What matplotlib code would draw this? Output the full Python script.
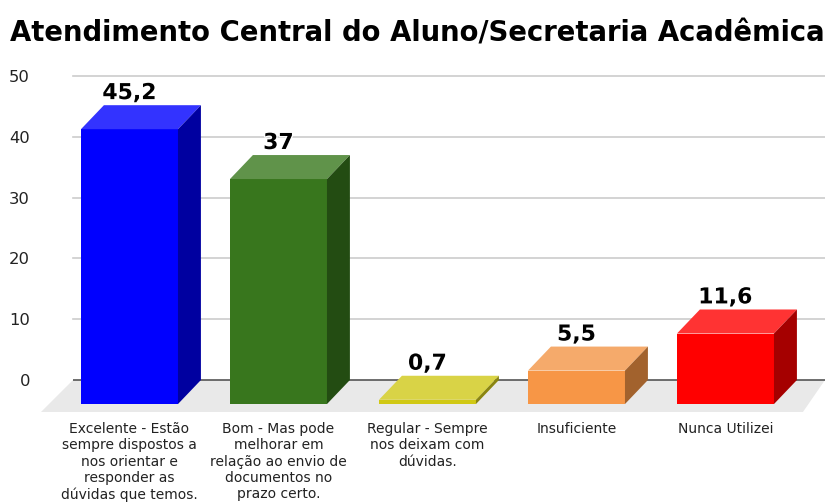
import matplotlib
matplotlib.use("Agg")
import matplotlib.pyplot as plt
import matplotlib.patheffects as pe

categories = [
    "Excelente - Estão\nsempre dispostos a\nnos orientar e\nresponder as\ndúvidas que temos.",
    "Bom - Mas pode\nmelhorar em\nrelação ao envio de\ndocumentos no\nprazo certo.",
    "Regular - Sempre\nnos deixam com\ndúvidas.",
    "Insuficiente",
    "Nunca Utilizei",
]
values = [45.2, 37, 0.7, 5.5, 11.6]
labels = ["45,2", "37", "0,7", "5,5", "11,6"]
yticks = [0, 10, 20, 30, 40, 50]

front = ["#0000ff", "#38761d", "#d0c814", "#f79646", "#ff0000"]
top = ["#3333ff", "#60934a", "#d9d346", "#f5aa6b", "#ff3333"]
side = ["#0000a0", "#234c12", "#8a8510", "#a2622d", "#a50000"]

W, H = 825, 503
fig = plt.figure(figsize=(W / 100, H / 100), dpi=100)
plt.rcParams["font.family"] = "DejaVu Sans"

# axes box in pixels: x 73-825, y 76-412
ax = fig.add_axes([73 / W, (H - 412) / H, (825 - 73) / W, (412 - 76) / H])
ax.set_xlim(-0.379, 4.668)
ax.set_ylim(-5.26, 50)
for s in ax.spines.values():
    s.set_visible(False)

width = 0.651
dx = 0.154   # depth of the fake 3d
dy = 3.95
base = -3.95

# floor
ax.fill([-0.379, -0.594, 4.52, 4.668], [0, -5.26, -5.26, 0],
        color="#e9e9e9", lw=0, clip_on=False, zorder=1)

ax.set_yticks(yticks)
ax.set_yticklabels(yticks, fontsize=11.8, color="#222222")
ax.tick_params(axis="y", length=0, pad=31)
for v in yticks[1:]:
    ax.axhline(v, color="#cccccc", lw=1.2, zorder=2, clip_on=False)
ax.axhline(0, color="#555555", lw=1.2, zorder=2)

ax.set_xticks(range(len(categories)))
ax.set_xticklabels(categories, fontsize=10, color="#222222", linespacing=1.22)
ax.tick_params(axis="x", length=0, pad=7)

for i, v in enumerate(values):
    l = i - width / 2
    r = i + width / 2
    h = base + v
    ax.fill([l, r, r, l], [base, base, h, h], color=front[i], lw=0, zorder=3)
    ax.fill([l, r, r + dx, l + dx], [h, h, h + dy, h + dy], color=top[i], lw=0, zorder=3)
    ax.fill([r, r + dx, r + dx, r], [base, base + dy, h + dy, h], color=side[i], lw=0, zorder=3)
    ax.text(i, h + dy + 1.0, labels[i], ha="center", va="baseline", fontsize=15.8,
            fontweight="bold", color="black", zorder=4,
            path_effects=[pe.withStroke(linewidth=2, foreground="white")])

fig.text(10 / W, (H - 41) / H, "Atendimento Central do Aluno/Secretaria Acadêmica",
         fontsize=19.85, fontweight="bold", color="black", ha="left", va="baseline")

fig.savefig("out.png", dpi=100)
